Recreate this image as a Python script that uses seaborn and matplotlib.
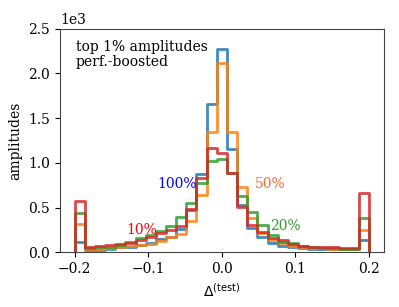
import numpy as np
import matplotlib
matplotlib.use("Agg")
import matplotlib.pyplot as plt
import pandas as pd
import seaborn as sns

# 29 bins between -0.2 and 0.2 (values outside clipped into the end bins)
n_bins = 29
bin_edges = np.linspace(-0.2, 0.2, n_bins + 1)
bin_centers = 0.5 * (bin_edges[:-1] + bin_edges[1:])

counts_100 = [112, 22, 30, 40, 55, 65, 80, 101, 149, 175, 261, 474, 873, 1657, 2270,
              1155, 530, 276, 175, 101, 74, 63, 50, 42, 40, 38, 35, 33, 134]
counts_50 = [313, 39, 40, 50, 60, 75, 85, 93, 130, 168, 202, 354, 642, 1339, 2110,
             1339, 725, 381, 213, 138, 101, 71, 56, 48, 45, 42, 40, 36, 253]
counts_20 = [440, 45, 55, 65, 80, 115, 155, 194, 239, 298, 399, 552, 773, 1026, 1038,
             891, 635, 455, 306, 194, 119, 101, 74, 55, 50, 45, 42, 38, 387]
counts_10 = [571, 63, 75, 80, 90, 110, 140, 170, 213, 250, 295, 481, 835, 1170, 1105,
             885, 505, 300, 231, 157, 138, 90, 74, 60, 58, 55, 50, 45, 661]

series = [("100%", counts_100, "C0"), ("50%", counts_50, "C1"),
          ("20%", counts_20, "C2"), ("10%", counts_10, "C3")]

plt.rcParams["font.family"] = "DejaVu Serif"
plt.rcParams["font.size"] = 10

fig = plt.figure(figsize=(3.99, 3.07), dpi=100)
ax = fig.add_axes([0.150, 0.178, 0.812, 0.729])

for name, counts, color in series:
    df = pd.DataFrame({"delta": bin_centers, "count": counts})
    sns.histplot(data=df, x="delta", weights="count", bins=list(bin_edges),
                 element="step", fill=False, color=color, linewidth=2.0,
                 alpha=0.85, ax=ax)
    # close the step outline down to zero at both ends, like histtype="step"
    line = ax.lines[-1]
    xs, ys = line.get_data()
    line.set_data(np.r_[xs[0], xs, xs[-1]], np.r_[0, ys, 0])

ax.set_xlim(-0.22, 0.22)
ax.set_ylim(0, 2500)
ax.set_xticks([-0.2, -0.1, 0.0, 0.1, 0.2])
ax.set_yticks([0, 500, 1000, 1500, 2000, 2500])
ax.ticklabel_format(axis="y", style="sci", scilimits=(3, 3))
ax.set_xlabel(r"$\Delta^{(\mathrm{test})}$")
ax.set_ylabel("amplitudes")
for sp in ax.spines.values():
    sp.set_edgecolor("#444444")

ax.text(0.05, 0.95, "top 1% amplitudes\nperf.-boosted", transform=ax.transAxes,
        ha="left", va="top", linespacing=1.1)
ax.text(-0.088, 765, "100%", color="blue", va="center")
ax.text(0.045, 765, "50%", color="#ff6633", va="center")
ax.text(0.065, 295, "20%", color="C2", va="center")
ax.text(-0.13, 250, "10%", color="red", va="center")

fig.savefig("out.png", dpi=100)
